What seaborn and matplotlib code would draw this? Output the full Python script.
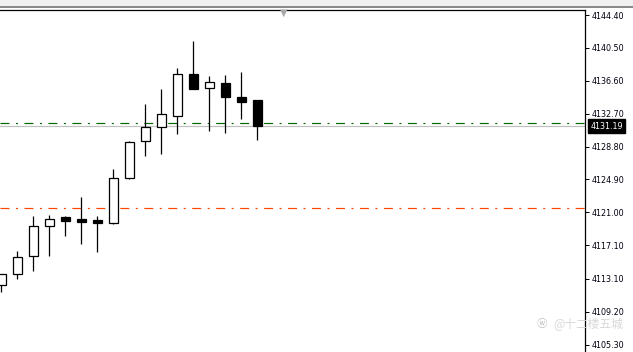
import numpy as np
import pandas as pd
import matplotlib
matplotlib.use("Agg")
import matplotlib.pyplot as plt
import seaborn as sns
from matplotlib.patches import Rectangle

# ---- data ----
opens  = [4112.34, 4113.64, 4115.78, 4119.33, 4120.44, 4120.20, 4120.08, 4119.69, 4125.03,
          4129.42, 4131.08, 4132.45, 4137.40, 4135.70, 4136.30, 4134.64, 4134.32]
highs  = [4113.64, 4116.40, 4120.56, 4120.68, 4120.56, 4122.81, 4120.56, 4126.13, 4129.45,
          4133.84, 4135.62, 4138.11, 4141.32, 4137.16, 4137.28, 4137.64, 4134.32]
lows   = [4111.58, 4113.12, 4114.07, 4115.85, 4118.22, 4117.27, 4116.32, 4119.57, 4124.91,
          4127.71, 4127.95, 4130.32, 4135.66, 4130.68, 4130.44, 4132.10, 4129.61]
closes = [4113.64, 4115.66, 4119.33, 4120.17, 4120.00, 4119.88, 4119.69, 4125.03, 4129.30,
          4131.08, 4132.62, 4137.37, 4135.66, 4136.42, 4134.71, 4134.12, 4131.19]
ytick_values = [4144.40, 4140.50, 4136.60, 4132.70, 4128.80, 4124.90,
                4121.00, 4117.10, 4113.10, 4109.20, 4105.30]
ytick_labels = ["4144.40", "4140.50", "4136.60", "4132.70", "4128.80", "4124.90",
                "4121.00", "4117.10", "4113.10", "4109.20", "4105.30"]
bid_price = 4131.19
bid_label = "4131.19"
green_level = 4131.55
orange_level = 4121.47
watermark = "@十二楼五城"

sns.set_theme(style="white")
plt.rcParams['font.family'] = ['DejaVu Sans', 'Noto Sans CJK SC']

W, H = 633, 352
fig = plt.figure(figsize=(W / 100, H / 100), dpi=100)
fig.patch.set_facecolor("white")

# top toolbar strip
fig.add_artist(Rectangle((0, 1 - 6 / H), 1, 6 / H, transform=fig.transFigure,
                         facecolor="#f0f0f0", edgecolor="none"))
fig.add_artist(Rectangle((0, 1 - 7.5 / H), 1, 1.5 / H, transform=fig.transFigure,
                         facecolor="#8a8a8a", edgecolor="none"))

ax = fig.add_axes([0, 0, 585 / W, 342 / H])
ax.set_facecolor("white")

df = pd.DataFrame(dict(open=opens, high=highs, low=lows, close=closes))
df["idx"] = np.arange(len(df))
bull = df["close"] >= df["open"]

# reference lines
ax.axhline(bid_price, color="#c0c0c0", lw=0.9, zorder=1)
ax.axhline(green_level, color="#006a00", lw=0.85, dashes=(7.6, 5.5, 1.7, 5.5), zorder=1)
ax.axhline(orange_level, color="#ff4500", lw=0.85, dashes=(7.6, 5.5, 1.7, 5.5), zorder=1)

# candles
ax.vlines(df["idx"], df["low"], df["high"], color="black", lw=0.9, zorder=2)
ax.bar(df["idx"], (df["close"] - df["open"]).abs(),
       bottom=np.minimum(df["open"], df["close"]), width=0.6,
       color=np.where(bull, "white", "black"), edgecolor="black",
       linewidth=0.9, zorder=3)

ax.set_xlim(-1.3 / 16, (585 - 1.3) / 16)
ax.set_ylim(4144.40 - 337 / 8.43, 4144.40 + 5 / 8.43)

ax.yaxis.tick_right()
ax.set_yticks(ytick_values)
ax.set_yticklabels(ytick_labels)
ax.tick_params(axis="y", right=True, left=False, direction="out", length=3,
               width=0.72, color="black", pad=2, labelsize=5.8, labelcolor="#000010")
ax.set_xticks([])
for s in ["left", "bottom"]:
    ax.spines[s].set_visible(False)
for s in ["top", "right"]:
    ax.spines[s].set_visible(True)
    ax.spines[s].set_color("black")
    ax.spines[s].set_linewidth(0.9)

# bid price label box
ax.annotate(bid_label, xy=(1, bid_price), xycoords=("axes fraction", "data"),
            xytext=(3.8, 0), textcoords="offset points", ha="left", va="center",
            fontsize=5.8, color="white",
            bbox=dict(boxstyle="square,pad=0.3", fc="black", ec="black"),
            annotation_clip=False, zorder=5)

# shift marker triangle
fig.text(284 / W, 1 - 12.5 / H, "▼", color="#a8a8a8", fontsize=7,
         ha="center", va="center")

# watermark
fig.text(553 / W, 1 - 324 / H, watermark, color="#d4d4d4", fontsize=8.5,
         ha="left", va="center", family=['Noto Sans CJK SC', 'DejaVu Sans'], alpha=0.9)
fig.text(542 / W, 1 - 324 / H, "ⓦ", color="#bdbdbd", fontsize=7.5,
         ha="center", va="center")

fig.savefig("out.png", dpi=100)
